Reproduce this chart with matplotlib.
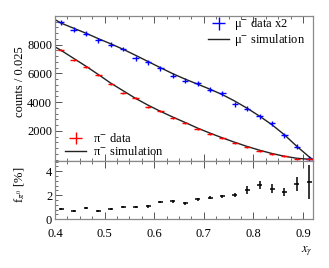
import numpy as np
import matplotlib
matplotlib.use("Agg")
import matplotlib.pyplot as plt
from matplotlib.ticker import MultipleLocator

plt.rcParams['font.family'] = ['Liberation Serif', 'DejaVu Serif']
plt.rcParams['mathtext.fontset'] = 'stix'

# bin centers
x_bins = [0.4125, 0.4375, 0.4625, 0.4875, 0.5125, 0.5375, 0.5625, 0.5875, 0.6125, 0.6375,
          0.6625, 0.6875, 0.7125, 0.7375, 0.7625, 0.7875, 0.8125, 0.8375, 0.8625, 0.8875, 0.9125]

mu_data = [9560, 9050, 8770, 8300, 8000, 7700, 7070, 6790, 6370, 5830, 5480,
           5320, 4850, 4620, 3850, 3540, 3030, 2520, 1700, 880, 50]
mu_err = [170] * 21

pi_data = [7650, 6950, 6480, 5900, 5230, 4660, 4270, 3660, 3380, 2890, 2560,
           2100, 1750, 1470, 1170, 880, 630, 380, 220, 70, 10]
pi_err = [70] * 21

x_sim = [0.4] + x_bins + [0.92]
mu_sim = [9750, 9500, 9150, 8800, 8420, 8060, 7680, 7260, 6830, 6400, 5980, 5600,
          5250, 4900, 4520, 4070, 3570, 3020, 2420, 1720, 920, 180, 0]
pi_sim = [7850, 7600, 7050, 6500, 5920, 5320, 4790, 4260, 3790, 3360, 2960, 2580,
          2190, 1840, 1510, 1200, 910, 650, 420, 230, 90, 20, 0]

frac = [0.83, 0.72, 0.92, 0.72, 0.86, 1.0, 1.0, 1.08, 1.44, 1.5, 1.33,
        1.67, 1.8, 1.9, 2.0, 2.44, 2.86, 2.55, 2.25, 2.94, 3.08]
frac_err = [0.08, 0.08, 0.08, 0.08, 0.08, 0.09, 0.09, 0.1, 0.12, 0.12, 0.12,
            0.13, 0.14, 0.15, 0.17, 0.3, 0.35, 0.35, 0.35, 0.55, 1.4]

W, H = 329, 268
fig = plt.figure(figsize=(W / 100, H / 100), dpi=100)
left, right = 55 / W, 313 / W
ax1 = fig.add_axes([left, 1 - 161 / H, right - left, (161 - 16) / H])
ax2 = fig.add_axes([left, 1 - 219.3 / H, right - left, (219.3 - 161) / H], sharex=ax1)

frame_col = '#8a8a8a'
for ax in (ax1, ax2):
    for s in ax.spines.values():
        s.set_color(frame_col)
        s.set_linewidth(0.9)
    ax.tick_params(which='both', direction='in', color='#555555', labelsize=9,
                   top=True, right=False, pad=2)
    ax.tick_params(which='major', length=5, width=0.7)
    ax.tick_params(which='minor', length=2.5, width=0.6)
    ax.xaxis.set_major_locator(MultipleLocator(0.1))
    ax.xaxis.set_minor_locator(MultipleLocator(0.025))

# Upper panel
ax1.plot(x_sim, mu_sim, color='#222222', lw=1.0, zorder=2)
ax1.plot(x_sim, pi_sim, color='#222222', lw=1.0, zorder=2)
h_mu = ax1.errorbar(x_bins, mu_data, yerr=mu_err, xerr=0.0065, fmt='none', ecolor='#0000ff',
                    elinewidth=1.0, zorder=3)
h_pi = ax1.errorbar(x_bins, pi_data, yerr=pi_err, xerr=0.0065, fmt='none', ecolor='#ff0000',
                    elinewidth=1.0, zorder=3)
ax1.set_xlim(0.4, 0.92)
ax1.set_ylim(-100, 10000)
ax1.set_yticks([2000, 4000, 6000, 8000])
ax1.yaxis.set_minor_locator(MultipleLocator(400))
ax1.tick_params(axis='x', labelbottom=False)

lines = ax1.get_lines()
leg1 = ax1.legend([h_mu, lines[0]], ['μ$^{-}$ data x2', 'μ$^{-}$ simulation'],
                  loc='upper right', bbox_to_anchor=(1.0, 1.05), frameon=False, fontsize=9,
                  handlelength=1.7, handletextpad=0.4, labelspacing=0.0, borderaxespad=0.2,
                  handleheight=0.5)
ax1.add_artist(leg1)
ax1.legend([h_pi, lines[1]], ['π$^{-}$ data', 'π$^{-}$ simulation'],
           loc='lower left', bbox_to_anchor=(0.01, -0.03), frameon=False, fontsize=9,
           handlelength=1.7, handletextpad=0.5, labelspacing=0.0, borderaxespad=0.2,
           handleheight=0.5)

# Lower panel
ax2.errorbar(x_bins, frac, yerr=frac_err, xerr=0.005, fmt='none', ecolor='black', elinewidth=1.1)
ax2.set_ylim(0, 4.85)
ax2.set_yticks([0, 2, 4])
ax2.yaxis.set_minor_locator(MultipleLocator(0.4))
ax2.set_xticks([0.4, 0.5, 0.6, 0.7, 0.8, 0.9])
ax2.set_xticklabels(['0.4', '0.5', '0.6', '0.7', '0.8', '0.9'])
ax2.tick_params(axis='x', pad=6)

fig.text(20 / W, 1 - 82 / H, 'counts / 0.025', rotation=90, ha='center', va='center', fontsize=9)
fig.text(20 / W, 1 - 185 / H, 'f$_{\\pi^{0}}$ [%]', rotation=90, ha='center', va='center', fontsize=9)
fig.text(313 / W, 1 - 251 / H, '$x_{\\gamma}$', ha='right', va='center', fontsize=9)

fig.savefig('out.png', dpi=100)
